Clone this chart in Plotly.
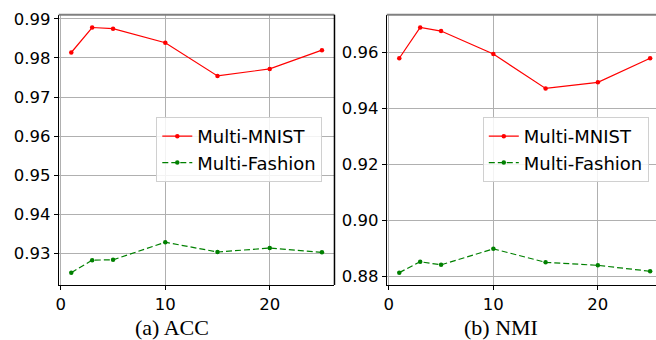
import plotly.graph_objects as go

x_vals = [1, 3, 5, 10, 15, 20, 25]
acc_mnist = [0.9814, 0.9878, 0.9875, 0.9839, 0.9754, 0.9772, 0.9820]
acc_fashion = [0.9250, 0.9282, 0.9283, 0.9328, 0.9303, 0.9313, 0.9302]
nmi_mnist = [0.9580, 0.9690, 0.9677, 0.9595, 0.9472, 0.9494, 0.9580]
nmi_fashion = [0.8814, 0.8853, 0.8842, 0.8899, 0.8851, 0.8840, 0.8819]
series_names = ["Multi-MNIST", "Multi-Fashion"]
captions = ["(a) ACC", "(b) NMI"]

W, H = 656, 340
fig = go.Figure()

red = "#ff0000"
green = "#008000"

def add(xa, ya, ys, name, color, dash, legend, show):
    fig.add_trace(go.Scatter(
        x=x_vals, y=ys, name=name, mode="lines+markers",
        line=dict(color=color, width=1.2, dash=dash),
        marker=dict(color=color, size=4.5, symbol="circle"),
        xaxis=xa, yaxis=ya, legend=legend, showlegend=show))

add("x", "y", acc_mnist, series_names[0], red, "solid", "legend", True)
add("x", "y", acc_fashion, series_names[1], green, "6px,3px", "legend", True)
add("x2", "y2", nmi_mnist, series_names[0], red, "solid", "legend2", True)
add("x2", "y2", nmi_fashion, series_names[1], green, "6px,3px", "legend2", True)

tick_font = dict(family="DejaVu Sans", size=16.5, color="#000000")
ydom = [1 - 285 / H, 1 - 10 / H]
common_ax = dict(showgrid=True, gridcolor="#b0b0b0", gridwidth=1,
                 showline=True, linecolor="#000000", linewidth=1,
                 ticks="outside", ticklen=4, tickcolor="#000000", tickwidth=1,
                 tickfont=tick_font, zeroline=False)

leg_font = dict(family="DejaVu Sans", size=18, color="#000000")
fig.update_layout(
    width=W, height=H, margin=dict(l=0, r=0, t=0, b=0),
    paper_bgcolor="white", plot_bgcolor="white",
    xaxis=dict(domain=[56 / W, 333 / W], range=[-0.2, 26.2], tickvals=[0, 10, 20],
               anchor="y", mirror=False, **common_ax),
    yaxis=dict(domain=ydom, range=[0.92185, 0.99105], dtick=0.01, tickformat=".2f",
               anchor="x", mirror=False, **common_ax),
    xaxis2=dict(domain=[385.5 / W, 1.0], range=[-0.2, -0.2 + (W - 385.5) / 10.5],
                tickvals=[0, 10, 20], anchor="y2", mirror=False, **common_ax),
    yaxis2=dict(domain=ydom, range=[0.8770, 0.9735], dtick=0.02, tickformat=".2f",
                anchor="x2", mirror=False, **common_ax),
    legend=dict(x=154 / W, y=1 - 114 / H, xanchor="left", yanchor="top",
                bgcolor="rgba(255,255,255,0.85)", bordercolor="#d0d0d0", borderwidth=1,
                font=leg_font, tracegroupgap=0),
    legend2=dict(x=482 / W, y=1 - 114 / H, xanchor="left", yanchor="top",
                 bgcolor="rgba(255,255,255,0.85)", bordercolor="#d0d0d0", borderwidth=1,
                 font=leg_font, tracegroupgap=0),
)

# frame lines: gray top for both panels, black right spine on the left panel
for xr, yr in [("x domain", "y domain"), ("x2 domain", "y2 domain")]:
    fig.add_shape(type="line", xref=xr, yref=yr, x0=0, x1=1, y0=1, y1=1,
                  line=dict(color="#808080", width=2))
fig.add_shape(type="line", xref="x domain", yref="y domain", x0=1, x1=1, y0=0, y1=1,
              line=dict(color="#000000", width=1.5))

for i, cx in enumerate([170, 500]):
    fig.add_annotation(text=captions[i], xref="paper", yref="paper", x=cx / W, y=1 - 328 / H,
                       showarrow=False,
                       font=dict(family="Liberation Serif", size=22, color="#000000"),
                       xanchor="center", yanchor="middle")

fig.write_html("out.html")
